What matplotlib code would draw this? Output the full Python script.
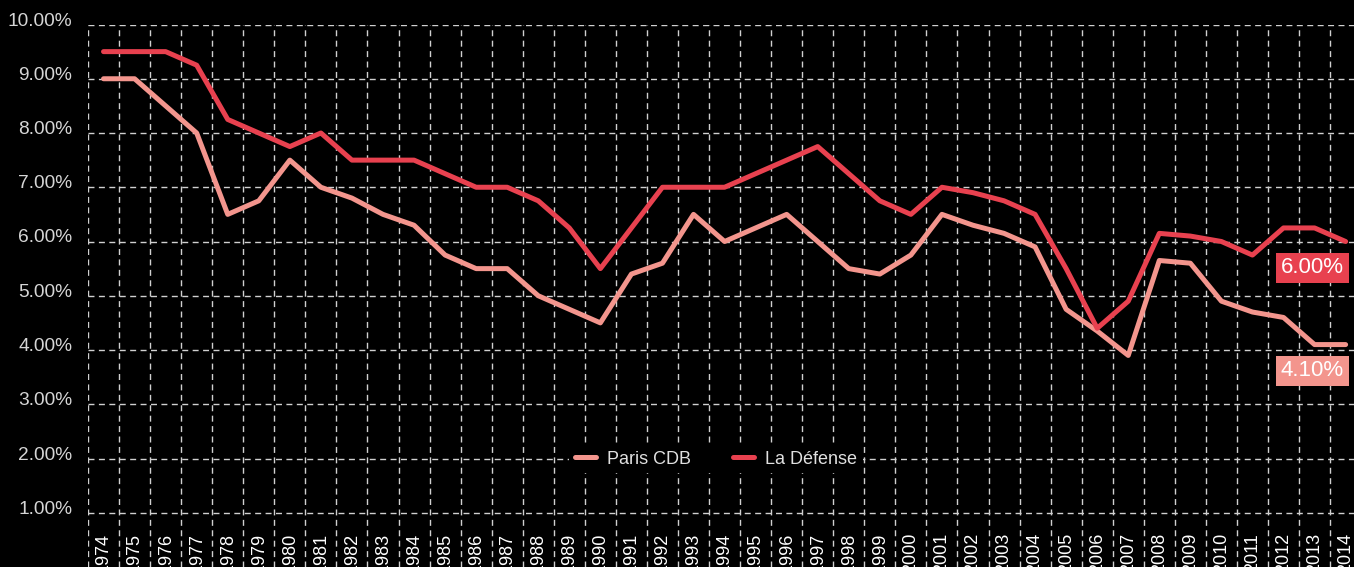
import numpy as np
import matplotlib.pyplot as plt
import matplotlib.transforms as mtransforms

plt.rcParams['font.family'] = ['Liberation Sans', 'DejaVu Sans']

# taux de rendement prime bureaux, 1974-2014
years = list(range(1974, 2015))
paris_cdb = [9.0, 9.0, 8.5, 8.0, 6.5, 6.75, 7.5, 7.0, 6.8, 6.5,
             6.3, 5.75, 5.5, 5.5, 5.0, 4.75, 4.5, 5.4, 5.6, 6.5,
             6.0, 6.25, 6.5, 6.0, 5.5, 5.4, 5.75, 6.5, 6.3, 6.15,
             5.9, 4.75, 4.35, 3.9, 5.65, 5.6, 4.9, 4.7, 4.6, 4.1,
             4.1]
la_defense = [9.5, 9.5, 9.5, 9.25, 8.25, 8.0, 7.75, 8.0, 7.5, 7.5,
              7.5, 7.25, 7.0, 7.0, 6.75, 6.25, 5.5, 6.25, 7.0, 7.0,
              7.0, 7.25, 7.5, 7.75, 7.25, 6.75, 6.5, 7.0, 6.9, 6.75,
              6.5, 5.5, 4.4, 4.9, 6.15, 6.1, 6.0, 5.75, 6.25, 6.25,
              6.0]
y_ticks = [1, 2, 3, 4, 5, 6, 7, 8, 9, 10]

pink = '#F3958D'
red = '#E8414F'

fig = plt.figure(figsize=(13.54, 5.67), dpi=100, facecolor='black')
ax = fig.add_axes([88 / 1354, 0, 1 - 88 / 1354, 1 - 24.5 / 567])
ax.set_facecolor('black')

ax.plot(years, paris_cdb, color=pink, lw=3.6, label='Paris CDB',
        solid_capstyle='round', solid_joinstyle='round', zorder=3)
ax.plot(years, la_defense, color=red, lw=3.6, label='La Défense',
        solid_capstyle='round', solid_joinstyle='round', zorder=3)

ax.set_xlim(1973.5, 2014.27)
ax.set_ylim(0, 10)

# grille pointillée : verticales entre les années
ax.set_xticks(years)
ax.set_xticklabels([str(y) for y in years], rotation=90)
ax.set_xticks(np.arange(1973.5, 2014, 1), minor=True)
ax.set_yticks(y_ticks)
ax.set_yticklabels([f"{v:.2f}%" for v in y_ticks])
ax.set_axisbelow(True)
ax.grid(which='minor', axis='x', color='#d0d0d0', lw=1, dashes=(4.3, 3.2))
ax.grid(which='major', axis='y', color='#d0d0d0', lw=1, dashes=(4.3, 3.2))
ax.grid(which='major', axis='x', visible=False)

ax.tick_params(axis='x', which='both', length=0, pad=-24.5,
               labelsize=13, labelcolor='white')
ax.tick_params(axis='y', length=0, pad=11.5, labelsize=13.8,
               labelcolor='#d5d5d5')
for lab in ax.get_yticklabels():
    lab.set_transform(lab.get_transform() +
                      mtransforms.ScaledTranslation(0, 0.055, fig.dpi_scale_trans))

for s in ax.spines.values():
    s.set_visible(False)

leg = ax.legend(loc='center', bbox_to_anchor=(716 / 1354, 1 - 459 / 567),
                bbox_transform=fig.transFigure, ncol=2, frameon=True,
                facecolor='black', edgecolor='none', framealpha=1,
                fancybox=False, borderpad=0.3, borderaxespad=0,
                fontsize=13, handlelength=1.2, handletextpad=0.6,
                columnspacing=2.3, labelcolor='#e0e0e0')
leg.set_zorder(4)

# dernières valeurs en étiquette
for vals, col in [(la_defense, red), (paris_cdb, pink)]:
    ax.annotate(f"{vals[-1]:.2f}%", xy=(years[-1], vals[-1]),
                xytext=(-24, -19), textcoords='offset points',
                ha='center', va='center', color='white', fontsize=16,
                bbox=dict(boxstyle='square,pad=0.22', fc=col, ec='none'),
                zorder=5)

fig.savefig('out.png', dpi=100, facecolor='black')
